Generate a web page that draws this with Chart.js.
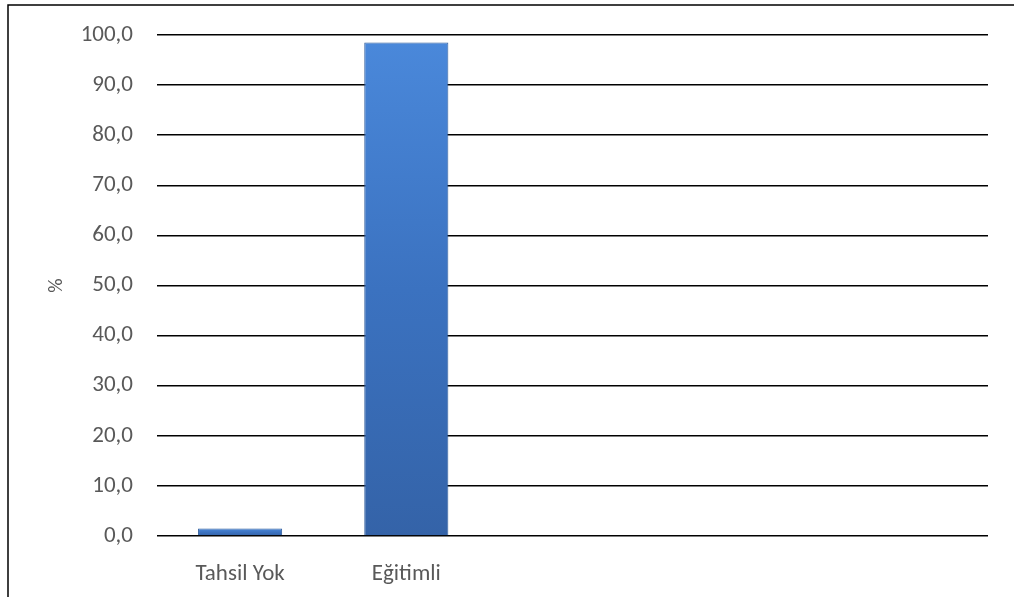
<!DOCTYPE html>
<html lang="tr">
<head>
  <meta charset="UTF-8">
  <title>Eğitim Durumu</title>
  <script src="https://cdn.jsdelivr.net/npm/chart.js"></script>
  <style>
    html, body { margin: 0; padding: 0; background: #fff; }
    .wrap { position: relative; width: 1014px; height: 597px; }
  </style>
</head>
<body>
  <div class="wrap"><canvas id="chart" width="1014" height="597"></canvas></div>
  <script>
    // data
    const categories = ['Tahsil Yok', 'Eğitimli', '', '', ''];
    const percents = [1.5, 98.5, null, null, null];
    const yTicks = [0, 10, 20, 30, 40, 50, 60, 70, 80, 90, 100];

    const labelColor = '#595959';
    const font = { family: 'Carlito, Lato, "Open Sans", sans-serif', size: 23 };

    function barFill(context) {
      const chart = context.chart;
      const yScale = chart.scales.y;
      if (!yScale || context.raw == null) return '#3f78c4';
      const top = yScale.getPixelForValue(context.raw);
      const base = yScale.getPixelForValue(0);
      if (!Number.isFinite(top) || !Number.isFinite(base) || top === base) return '#3f78c4';
      const g = chart.ctx.createLinearGradient(0, top, 0, base);
      g.addColorStop(0, '#4a88da');
      g.addColorStop(0.5, '#3b72c0');
      g.addColorStop(1, '#3463a8');
      return g;
    }

    // frame around the chart (only left and top edges show in the picture)
    const frame = {
      id: 'frame',
      afterDraw(chart) {
        const c = chart.ctx;
        c.save();
        c.strokeStyle = '#000';
        c.lineWidth = 1.5;
        c.beginPath();
        c.moveTo(8, 600);
        c.lineTo(8, 5);
        c.lineTo(1016, 5);
        c.stroke();
        c.restore();
      }
    };

    new Chart(document.getElementById('chart'), {
      type: 'bar',
      data: {
        labels: categories,
        datasets: [{
          data: percents,
          backgroundColor: barFill,
          borderColor: '#2f5c9c',
          borderWidth: 1,
          categoryPercentage: 1,
          barPercentage: 0.506
        }]
      },
      options: {
        responsive: false,
        animation: false,
        layout: { padding: { top: 35, right: 26, left: 0, bottom: 0 } },
        plugins: {
          legend: { display: false },
          tooltip: { enabled: false }
        },
        scales: {
          x: {
            grid: { display: false, drawTicks: false },
            border: { display: false },
            ticks: { color: labelColor, font: font, padding: 24, maxRotation: 0 },
            afterFit(scale) { scale.height = 61; }
          },
          y: {
            min: 0,
            max: 100,
            afterBuildTicks(scale) { scale.ticks = yTicks.map(v => ({ value: v })); },
            grid: { color: '#000', lineWidth: 1.5, drawTicks: false },
            border: { display: false },
            ticks: {
              color: labelColor,
              font: font,
              padding: 24,
              callback: v => v.toFixed(1).replace('.', ',')
            },
            title: {
              display: true,
              text: '%',
              color: labelColor,
              font: { family: font.family, size: 20 },
              padding: { top: 45, bottom: 0 }
            },
            afterFit(scale) {
              scale.width = 157;
              scale.paddingTop = 0;
              scale.paddingBottom = 0;
            }
          }
        }
      },
      plugins: [frame]
    });
  </script>
</body>
</html>
